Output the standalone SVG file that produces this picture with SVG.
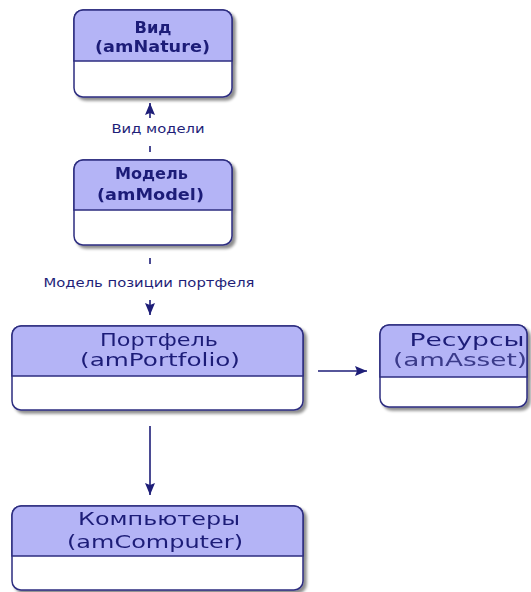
<svg xmlns="http://www.w3.org/2000/svg" width="531" height="592" viewBox="0 0 531 592">
<defs>
<filter id="sh" x="-10%" y="-10%" width="130%" height="140%">
<feGaussianBlur in="SourceAlpha" stdDeviation="1.8"/>
<feOffset dx="3" dy="3" result="b"/>
<feComponentTransfer><feFuncA type="linear" slope="0.45"/></feComponentTransfer>
<feMerge><feMergeNode/><feMergeNode in="SourceGraphic"/></feMerge>
</filter>
<marker id="ah" viewBox="0 0 12 10" refX="12" refY="5" markerWidth="12" markerHeight="10" markerUnits="userSpaceOnUse" orient="auto">
<path d="M0,0 L12,5 L0,10 L2,5 Z" fill="#1e1e78"/>
</marker>
</defs>
<style>
.body{fill:#ffffff;stroke:#2e2e80;stroke-width:1.5}
.head{fill:#b4b4f6;stroke:#2e2e80;stroke-width:1.5}
.tb{font-family:"DejaVu Sans",Verdana,sans-serif;font-weight:bold;font-size:15px;fill:#1e1e78;text-anchor:middle}
.tr{font-family:"DejaVu Sans",Verdana,sans-serif;font-size:17px;fill:#1e1e78;text-anchor:middle}
.lbl{font-family:"DejaVu Sans",Verdana,sans-serif;font-size:12px;fill:#1e1e78;text-anchor:middle}
.con{stroke:#1e1e78;stroke-width:1.6;fill:none}
</style>
<rect width="531" height="592" fill="#ffffff"/>

<g id="connectors">
<line class="con" x1="150" y1="152" x2="150" y2="146"/>
<line class="con" x1="150" y1="118" x2="150" y2="103" marker-end="url(#ah)"/>
<text class="lbl" x="158" y="133" textLength="93" lengthAdjust="spacingAndGlyphs">Вид модели</text>
<line class="con" x1="150" y1="258" x2="150" y2="264"/>
<line class="con" x1="150" y1="300" x2="150" y2="315" marker-end="url(#ah)"/>
<text class="lbl" x="149" y="287" textLength="211" lengthAdjust="spacingAndGlyphs">Модель позиции портфеля</text>
<line class="con" x1="318" y1="371" x2="367" y2="371" marker-end="url(#ah)"/>
<line class="con" x1="150" y1="426" x2="150" y2="495" marker-end="url(#ah)"/>
</g>

<g id="vid" filter="url(#sh)">
<rect class="body" x="74" y="10" width="158" height="87" rx="9"/>
<path class="head" d="M74,61 V19 A9,9 0 0 1 83,10 H223 A9,9 0 0 1 232,19 V61 Z"/>
<text class="tb" x="153" y="33" textLength="37" lengthAdjust="spacingAndGlyphs">Вид</text>
<text class="tb" x="152.5" y="52" textLength="115" lengthAdjust="spacingAndGlyphs">(amNature)</text>
</g>

<g id="model" filter="url(#sh)">
<rect class="body" x="74" y="160" width="158" height="85" rx="9"/>
<path class="head" d="M74,210 V169 A9,9 0 0 1 83,160 H223 A9,9 0 0 1 232,169 V210 Z"/>
<text class="tb" x="151.5" y="179" textLength="73" lengthAdjust="spacingAndGlyphs">Модель</text>
<text class="tb" x="150.5" y="200" textLength="107" lengthAdjust="spacingAndGlyphs">(amModel)</text>
</g>

<g id="portfolio" filter="url(#sh)">
<rect class="body" x="12" y="326" width="291" height="84" rx="9"/>
<path class="head" d="M12,376 V335 A9,9 0 0 1 21,326 H294 A9,9 0 0 1 303,335 V376 Z"/>
<text class="tr" x="159" y="346" textLength="118" lengthAdjust="spacingAndGlyphs">Портфель</text>
<text class="tr" x="160" y="366" textLength="160" lengthAdjust="spacingAndGlyphs">(amPortfolio)</text>
</g>

<g id="asset" filter="url(#sh)">
<rect class="body" x="380" y="325" width="147" height="82" rx="9"/>
<path class="head" d="M380,377 V334 A9,9 0 0 1 389,325 H518 A9,9 0 0 1 527,334 V377 Z"/>
<text class="tr" x="467" y="346" textLength="115" lengthAdjust="spacingAndGlyphs">Ресурсы</text>
<text class="tr" x="460" y="366" textLength="134" lengthAdjust="spacingAndGlyphs" style="fill:#3a3a8a">(amAsset)</text>
</g>

<g id="computer" filter="url(#sh)">
<rect class="body" x="12" y="506" width="291" height="84" rx="9"/>
<path class="head" d="M12,556 V515 A9,9 0 0 1 21,506 H294 A9,9 0 0 1 303,515 V556 Z"/>
<text class="tr" x="159" y="525" textLength="162" lengthAdjust="spacingAndGlyphs">Компьютеры</text>
<text class="tr" x="155" y="548" textLength="176" lengthAdjust="spacingAndGlyphs">(amComputer)</text>
</g>
</svg>
